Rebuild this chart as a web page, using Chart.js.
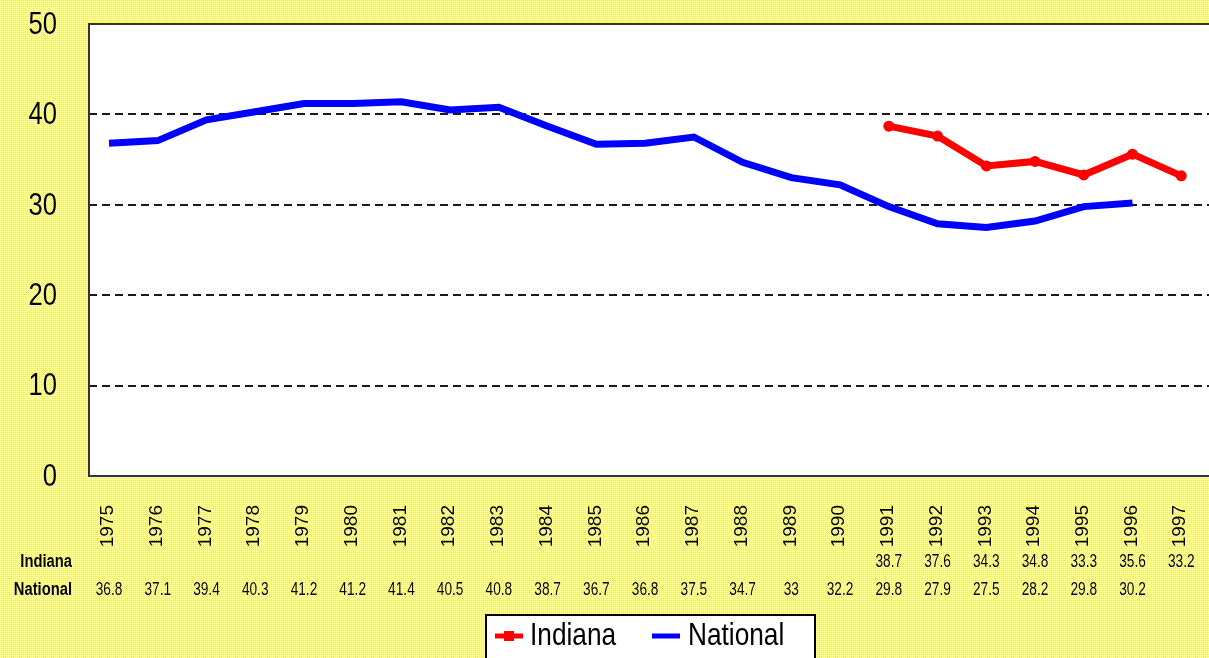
<!DOCTYPE html>
<html><head><meta charset="utf-8">
<script src="https://cdn.jsdelivr.net/npm/chart.js@4.4.0/dist/chart.umd.min.js"></script>
<style>
html,body{margin:0;padding:0;overflow:hidden;width:1209px;height:658px;}
body{background-color:#ffff88;}
canvas{display:block;}
</style></head><body>
<canvas id="c" width="1216" height="658" style="width:1216px;height:658px"></canvas>
<script>
const years = ['1975','1976','1977','1978','1979','1980','1981','1982','1983','1984','1985','1986','1987','1988','1989','1990','1991','1992','1993','1994','1995','1996','1997'];
const indiana = [null,null,null,null,null,null,null,null,null,null,null,null,null,null,null,null,38.7,37.6,34.3,34.8,33.3,35.6,33.2];
const national = [36.8,37.1,39.4,40.3,41.2,41.2,41.4,40.5,40.8,38.7,36.7,36.8,37.5,34.7,33,32.2,29.8,27.9,27.5,28.2,29.8,30.2,null];
const seriesNames = ['Indiana','National'];
const yTicks = [0,10,20,30,40,50];

const FONT = '"Liberation Sans",Arial,sans-serif';

// dithered yellow page background
(function(){
  const p = document.createElement('canvas'); p.width = 2; p.height = 2;
  const g = p.getContext('2d');
  g.fillStyle = '#ffff10'; g.fillRect(0,0,2,2);
  g.fillStyle = '#ffffff'; g.fillRect(1,0,1,1); g.fillRect(0,1,1,1);
  document.body.style.backgroundImage = 'url(' + p.toDataURL() + ')';
})();

const toXY = arr => arr.map((v,i)=>({x:i,y:v}));

function txt(ctx, s, x, y, font, align, sx){
  ctx.save();
  ctx.font = font;
  ctx.translate(x, y);
  ctx.scale(sx, 1);
  ctx.textAlign = align;
  ctx.textBaseline = 'middle';
  ctx.fillText(s, 0, 0);
  ctx.restore();
}

const decor = {
  id:'decor',
  beforeDraw(chart){
    const {ctx, chartArea:a} = chart;
    ctx.save();
    ctx.fillStyle = '#ffffff';
    ctx.fillRect(a.left, a.top, a.right-a.left, a.bottom-a.top);
    ctx.restore();
  },
  afterDraw(chart){
    const {ctx, chartArea:a} = chart;
    const xs = chart.scales.x, ys = chart.scales.y;
    ctx.save();
    // plot border
    ctx.strokeStyle = '#333333';
    ctx.lineWidth = 2;
    ctx.strokeRect(a.left, a.top, a.right-a.left, a.bottom-a.top);
    ctx.fillStyle = '#000';
    // y tick labels
    yTicks.forEach(v=>{
      txt(ctx, String(v), 57, ys.getPixelForValue(v)+1, '32px ' + FONT, 'right', 0.8);
    });
    // year labels (rotated)
    years.forEach((y,i)=>{
      const x = xs.getPixelForValue(i) - 1;
      ctx.save();
      ctx.translate(x, 505);
      ctx.rotate(-Math.PI/2);
      ctx.font = '19px ' + FONT;
      ctx.textAlign = 'right';
      ctx.textBaseline = 'middle';
      ctx.fillText(y, 0, 0);
      ctx.restore();
    });
    // data table
    const rows = [[seriesNames[0], indiana, 562],[seriesNames[1], national, 590]];
    rows.forEach(([name, vals, yy])=>{
      txt(ctx, name, 72, yy, 'bold 18px ' + FONT, 'right', 0.82);
      vals.forEach((v,i)=>{
        if (v === null) return;
        txt(ctx, String(v), xs.getPixelForValue(i), yy, '18px ' + FONT, 'center', 0.76);
      });
    });
    // legend
    ctx.fillStyle = '#ffffff';
    ctx.fillRect(486, 615, 329, 60);
    ctx.strokeStyle = '#000';
    ctx.lineWidth = 2;
    ctx.strokeRect(486, 615, 329, 60);
    const items = [[chart.data.datasets[0], 495, 530],[chart.data.datasets[1], 652, 688]];
    items.forEach(([ds, lx, tx], k)=>{
      ctx.strokeStyle = ds.borderColor;
      ctx.lineWidth = 5;
      ctx.beginPath(); ctx.moveTo(lx, 636); ctx.lineTo(lx+28, 636); ctx.stroke();
      if (k===0){ ctx.fillStyle = ds.borderColor; ctx.fillRect(lx+9, 631, 10, 10); }
      ctx.fillStyle = '#000';
      txt(ctx, ds.label, tx, 636, '32px ' + FONT, 'left', 0.82);
    });
    ctx.restore();
  }
};

new Chart(document.getElementById('c'), {
  type:'line',
  data:{
    datasets:[
      {label:seriesNames[0], data:toXY(indiana), borderColor:'#ff0000', backgroundColor:'#ff0000', borderWidth:7, pointRadius:5.5, pointBorderWidth:0, pointBackgroundColor:'#ff0000', tension:0, spanGaps:false, order:0},
      {label:seriesNames[1], data:toXY(national), borderColor:'#0000ff', backgroundColor:'#0000ff', borderWidth:7, pointRadius:0, tension:0, spanGaps:false, borderCapStyle:'butt', order:1}
    ]
  },
  options:{
    responsive:false, animation:false, devicePixelRatio:1,
    layout:{padding:{top:24, left:0, right:0, bottom:0}},
    plugins:{legend:{display:false}, tooltip:{enabled:false}, title:{display:false}},
    scales:{
      x:{type:'linear', min:-0.41, max:22.6,
         ticks:{display:false}, grid:{display:false}, border:{display:false},
         afterFit(s){ s.height = 182; }},
      y:{min:0, max:50,
         afterBuildTicks(s){ s.ticks = yTicks.map(v=>({value:v})); },
         ticks:{display:false},
         grid:{drawTicks:false, lineWidth:2, color:c=> (c.tick && (c.tick.value===0||c.tick.value===50)) ? 'rgba(0,0,0,0)' : '#1a1a1a'},
         border:{display:false, dash:[8,5]},
         afterFit(s){ s.width = 89; }}
    }
  },
  plugins:[decor]
});
</script>
</body></html>
